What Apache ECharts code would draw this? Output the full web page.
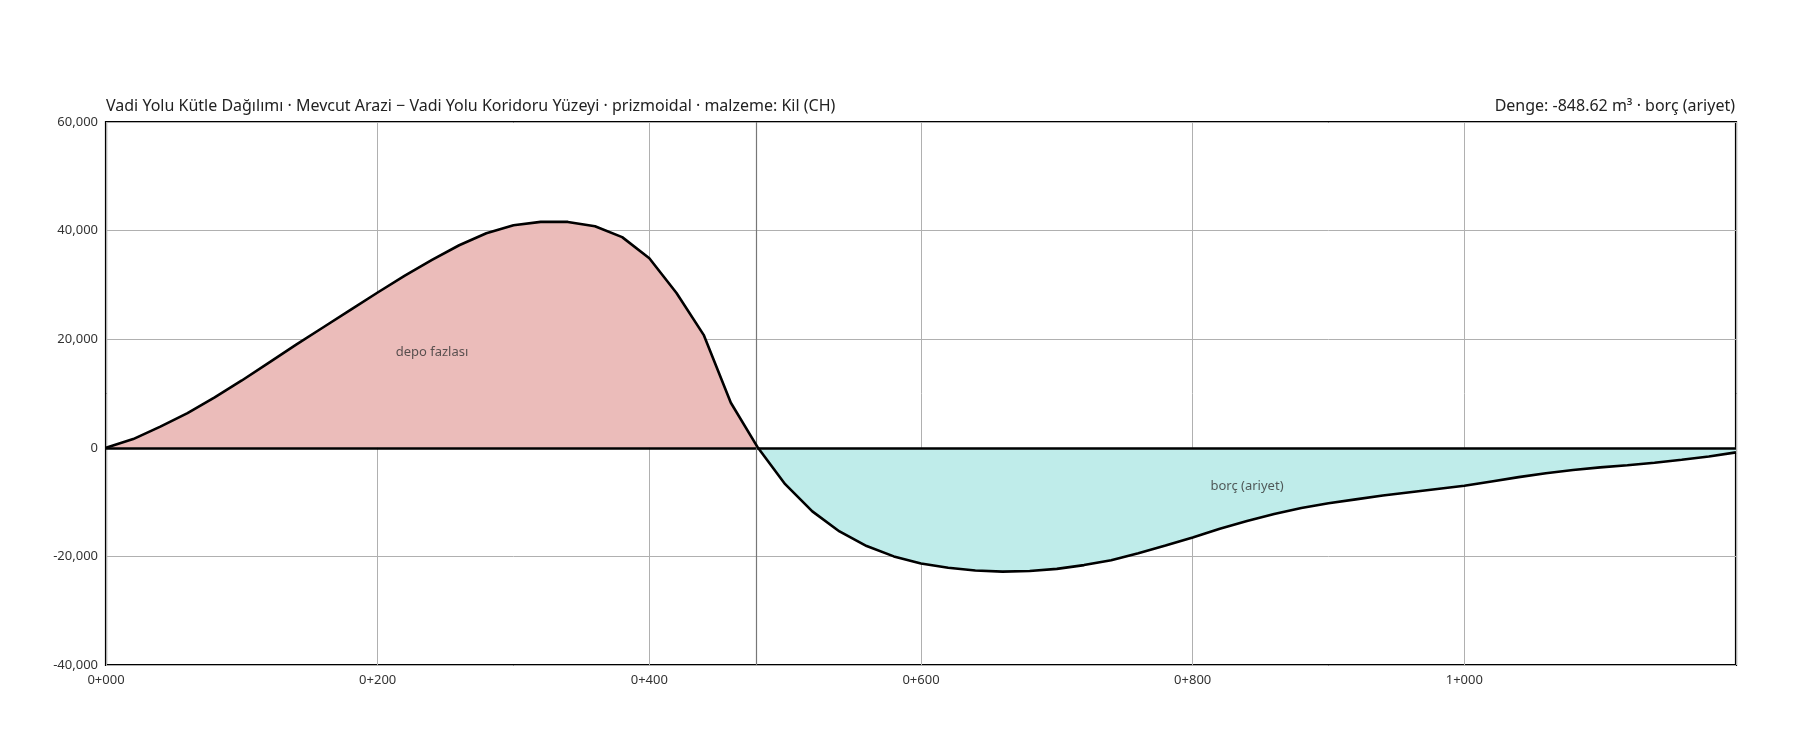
<!DOCTYPE html>
<html>
<head>
<meta charset="utf-8">
<script src="https://cdn.jsdelivr.net/npm/echarts@6/dist/echarts.min.js"></script>
<style>
html,body{margin:0;padding:0;background:#fff;}
#c{width:1800px;height:740px;}
</style>
</head>
<body>
<div id="c"></div>
<script>
const stations = [0,20,40,60,80,100,120,140,160,180,200,220,240,260,280,300,320,340,360,380,400,420,440,460,480,500,520,540,560,580,600,620,640,660,680,700,720,740,760,780,800,820,840,860,880,900,920,940,960,980,1000,1020,1040,1060,1080,1100,1120,1140,1160,1180,1200];
const massOrdinate = [0,1600,3900,6400,9300,12400,15700,19000,22200,25400,28600,31700,34600,37300,39500,41000,41600,41600,40800,38800,34900,28500,20800,8300,0,-6700,-11700,-15400,-18100,-20000,-21300,-22100,-22600,-22800,-22700,-22300,-21600,-20700,-19400,-18000,-16500,-14900,-13500,-12200,-11100,-10200,-9500,-8800,-8200,-7600,-7000,-6200,-5400,-4700,-4100,-3600,-3200,-2750,-2200,-1600,-849];
const yTicks = [-40000,-20000,0,20000,40000,60000];
const xTicks = [0,200,400,600,800,1000];
const balanceStation = [479];
const titleLeft = 'Vadi Yolu Kütle Dağılımı · Mevcut Arazi − Vadi Yolu Koridoru Yüzeyi · prizmoidal · malzeme: Kil (CH)';
const titleRight = 'Denge: -848.62 m³ · borç (ariyet)';
const regionLabels = [
  {name:'depo fazlası', x:240, y:17500},
  {name:'borç (ariyet)', x:840, y:-7000}
];

const lineData = stations.map((s,i)=>[s, massOrdinate[i]]);
const posData = stations.map((s,i)=>[s, Math.max(massOrdinate[i],0)]);
const negData = stations.map((s,i)=>[s, Math.min(massOrdinate[i],0)]);

const FONT = 'Noto Sans';
const chart = echarts.init(document.getElementById('c'), null, {renderer:'canvas'});
chart.setOption({
  animation:false,
  backgroundColor:'#fff',
  textStyle:{fontFamily:FONT},
  title:[
    {text:titleLeft, left:101, top:93, textStyle:{fontFamily:FONT, fontSize:16, fontWeight:'normal', color:'#222'}},
    {text:titleRight, right:60, top:93, textStyle:{fontFamily:FONT, fontSize:16, fontWeight:'normal', color:'#222'}}
  ],
  grid:{left:106, right:64, top:122, bottom:75, show:true, borderColor:'#000', borderWidth:2.2, backgroundColor:'transparent'},
  xAxis:{
    type:'value', min:0, max:1200, interval:200,
    axisLine:{show:false, onZero:false},
    axisTick:{show:false},
    splitLine:{show:true, lineStyle:{color:'#b0b0b0', width:1}},
    axisLabel:{
      fontFamily:FONT, fontSize:13, color:'#333', margin:9,
      showMaxLabel:false,
      formatter:function(v){
        const km = Math.floor(v/1000);
        const m = String(Math.round(v%1000)).padStart(3,'0');
        return km + '+' + m;
      }
    }
  },
  yAxis:{
    type:'value', min:-40000, max:60000, interval:20000,
    axisLine:{show:false},
    axisTick:{show:false},
    splitLine:{show:true, lineStyle:{color:'#b0b0b0', width:1}},
    axisLabel:{
      fontFamily:FONT, fontSize:13, color:'#333', margin:8,
      formatter:function(v){ return v.toLocaleString('en-US'); }
    }
  },
  series:[
    {
      type:'line', data:posData, symbol:'none', silent:true,
      lineStyle:{width:0, opacity:0},
      areaStyle:{color:'#ebbcba', opacity:1, origin:0},
      z:1
    },
    {
      type:'line', data:negData, symbol:'none', silent:true,
      lineStyle:{width:0, opacity:0},
      areaStyle:{color:'#bfecea', opacity:1, origin:0},
      z:1
    },
    {
      type:'line', data:lineData, symbol:'none', silent:true,
      lineStyle:{color:'#000', width:2.6},
      z:5,
      markLine:{
        silent:true, symbol:'none', label:{show:false},
        data:[
          {yAxis:0, lineStyle:{color:'#000', width:2.6, type:'solid'}},
          {xAxis:balanceStation[0], lineStyle:{color:'#777', width:1.2, type:'solid'}}
        ]
      }
    },
    {
      type:'scatter', symbolSize:0, silent:true, z:6,
      data:regionLabels.map(r=>({value:[r.x, r.y], name:r.name})),
      label:{show:true, position:'inside', formatter:'{b}', fontFamily:FONT, fontSize:13, color:'#333'}
    }
  ]
});
</script>
</body>
</html>
